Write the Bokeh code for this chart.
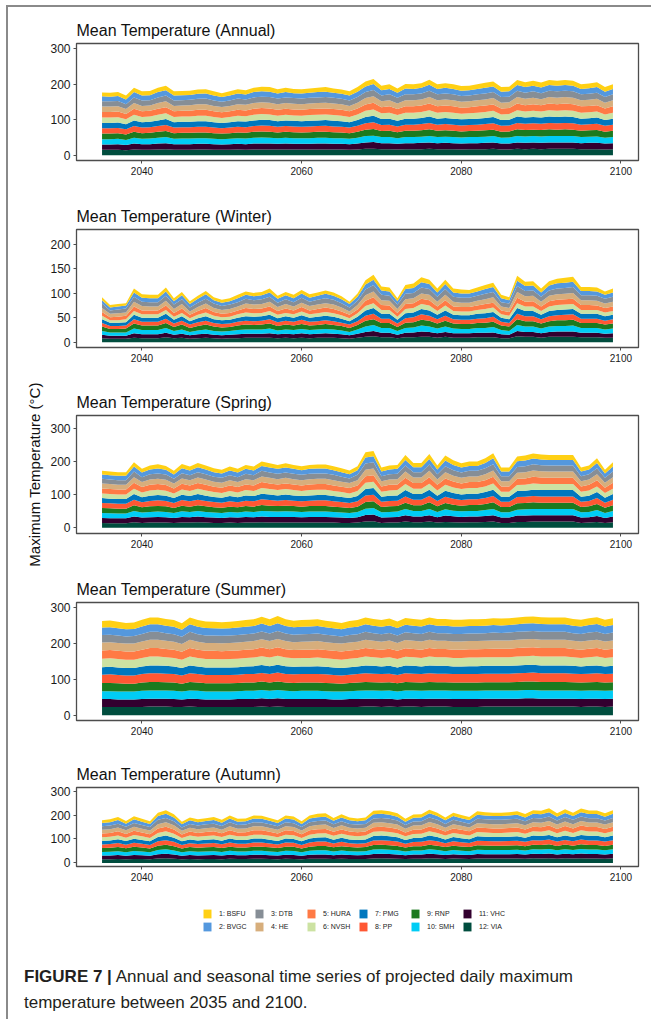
from bokeh.plotting import figure
from bokeh.layouts import column
from bokeh.models import ColumnDataSource, Range1d, FixedTicker, Legend, LegendItem, Div
from bokeh.embed import file_html
from bokeh.resources import INLINE

# ---------------------------------------------------------------------------
# Data: mean daily maximum temperature per station, 2035-2099
# ---------------------------------------------------------------------------
years = list(range(2035, 2100))
stations = ["BSFU", "BVGC", "DTB", "HE", "HURA", "NVSH", "PMG", "PP", "RNP", "SMH", "VHC", "VIA"]
legend_labels = ["1: BSFU", "2: BVGC", "3: DTB", "4: HE", "5: HURA", "6: NVSH",
                 "7: PMG", "8: PP", "9: RNP", "10: SMH", "11: VHC", "12: VIA"]
station_colors = ["#FFD014", "#5498DE", "#868E96", "#D7AE7C", "#FF7A45", "#CCE2A2",
                  "#0077BE", "#FF5733", "#1C7A1F", "#00CCF5", "#33002F", "#004D3E"]
x_ticks = [2040, 2060, 2080, 2100]

# Annual
annual_bsfu = [11,11,11,11,12,12,12,12,13,12, 12,12,12,12,12,11,12,12,12,12, 13,13,12,12,12,12,12,12,13,12, 12,12,13,14,14,13,13,12,13,13, 13,14,13,13,13,13,13,13,14,14, 13,13,14,14,14,14,14,14,14,14, 13,13,14,13,13]
annual_bvgc = [14,13,14,13,15,14,14,15,15,14, 14,14,14,14,14,13,14,14,14,15, 15,15,14,15,14,14,14,15,15,14, 14,14,15,16,17,15,15,14,16,15, 16,17,15,16,15,15,15,15,16,16, 15,15,16,16,16,16,16,16,16,16, 15,16,16,15,15]
annual_dtb = [15,15,15,14,16,15,15,16,16,15, 15,15,15,16,15,15,15,16,15,16, 16,16,16,16,16,16,16,16,16,16, 15,15,16,17,18,16,17,16,17,17, 17,18,17,17,17,16,16,17,17,17, 16,16,18,17,18,17,18,18,18,18, 17,17,17,16,17]
annual_he = [15,15,15,14,16,15,15,16,17,15, 15,16,16,16,15,15,15,16,16,16, 16,16,16,16,16,16,16,16,16,16, 16,15,16,18,18,17,17,16,17,17, 17,18,17,17,17,17,17,17,17,18, 16,16,18,18,18,17,18,18,18,18, 17,17,18,16,17]
annual_hura = [16,16,16,15,17,16,16,17,17,16, 16,16,17,17,16,16,16,17,16,17, 17,17,17,17,17,17,17,17,17,17, 17,16,17,18,19,17,18,17,18,18, 18,19,18,18,18,17,17,18,18,18, 17,17,19,18,19,18,19,19,19,19, 18,18,18,17,18]
annual_nvsh = [15,15,15,14,16,15,15,16,16,15, 15,15,15,15,15,14,15,15,15,16, 16,16,15,16,15,15,16,16,16,16, 15,15,16,17,18,16,17,16,17,17, 17,18,17,17,17,16,16,17,17,17, 16,16,18,17,17,17,18,17,18,17, 17,17,17,16,17]
annual_pmg = [15,15,15,14,16,15,15,16,17,15, 15,15,16,16,15,15,15,16,16,16, 16,16,16,16,16,16,16,16,16,16, 16,15,16,18,18,17,17,16,17,17, 17,18,17,17,17,17,17,17,17,18, 16,16,18,17,18,17,18,18,18,18, 17,17,17,16,17]
annual_pp = [15,15,15,15,16,16,16,16,17,16, 16,16,16,16,16,15,16,16,16,16, 17,17,16,16,16,16,16,16,17,16, 16,16,17,18,19,17,17,16,17,17, 18,18,17,18,17,17,17,17,18,18, 17,17,18,18,18,18,18,18,18,18, 17,17,18,17,17]
annual_rnp = [16,16,16,15,17,16,16,17,17,16, 16,16,16,16,16,16,16,16,16,17, 17,17,16,17,17,16,17,17,17,17, 16,16,17,18,19,17,18,17,18,18, 18,19,18,18,18,17,17,18,18,18, 17,17,19,18,18,18,19,18,19,18, 18,18,18,17,18]
annual_smh = [15,15,15,14,16,15,16,16,17,15, 16,16,16,16,15,15,15,16,16,16, 17,16,16,16,16,16,16,16,16,16, 16,15,16,18,18,17,17,16,17,17, 17,18,17,17,17,17,17,17,17,18, 16,17,18,18,18,18,18,18,18,18, 17,17,18,16,17]
annual_vhc = [15,15,16,15,17,16,16,17,17,16, 16,16,16,16,16,15,16,16,16,17, 17,17,16,17,16,16,16,17,17,16, 16,16,17,18,19,17,17,16,17,17, 18,18,17,18,17,17,17,17,18,18, 17,17,18,18,18,18,18,18,18,18, 17,18,18,17,17]
annual_via = [15,15,15,14,16,15,15,16,17,15, 15,15,16,16,15,15,15,16,15,16, 16,16,16,16,16,16,16,16,16,16, 16,15,16,18,18,17,17,16,17,17, 17,18,17,17,17,16,17,17,17,18, 16,16,18,17,18,17,18,18,18,18, 17,17,17,16,17]

# Winter
winter_bsfu = [6,5,5,5,8,7,7,7,8,6, 7,6,6,7,6,6,6,7,7,7, 7,8,6,7,7,7,7,7,7,7, 6,5,7,9,10,8,8,6,8,9, 10,9,8,9,8,8,7,8,8,9, 7,6,10,9,9,8,9,9,10,10, 8,8,8,7,8]
winter_bvgc = [7,6,6,6,9,8,8,8,9,7, 8,7,8,9,7,7,7,8,8,8, 8,9,8,8,8,9,8,8,9,8, 8,7,8,10,11,9,9,7,10,10, 11,10,9,10,9,9,9,9,10,10, 8,7,11,10,10,9,10,11,11,11, 9,9,9,8,9]
winter_dtb = [9,7,8,8,10,9,9,9,10,9, 10,8,9,10,9,8,9,9,10,9, 10,10,9,10,9,10,9,10,10,10, 9,8,9,12,13,11,10,9,11,11, 12,12,10,12,10,10,10,10,11,11, 9,9,12,11,11,10,11,12,12,12, 10,10,10,10,10]
winter_he = [8,7,7,7,10,9,8,8,10,8, 9,7,8,9,8,8,8,8,9,9, 9,10,8,9,8,9,9,9,9,9, 8,7,9,11,12,10,10,8,10,10, 11,11,10,11,10,9,9,10,10,11, 8,8,12,11,11,10,11,11,11,12, 10,10,10,9,10]
winter_hura = [8,6,7,7,9,8,8,8,9,8, 9,7,8,9,8,7,8,8,9,9, 9,9,8,9,8,9,8,9,9,9, 8,7,8,11,12,10,9,8,10,10, 11,11,9,11,9,9,9,9,10,10, 8,8,11,10,11,9,11,11,11,11, 10,10,9,9,9]
winter_nvsh = [7,5,5,6,8,7,7,7,8,6, 7,6,7,8,7,6,6,7,8,7, 7,8,7,7,7,8,7,7,8,7, 7,6,7,9,10,8,8,6,9,9, 10,10,8,10,8,8,8,8,9,9, 7,7,10,9,9,8,9,10,10,10, 8,8,8,8,8]
winter_pmg = [8,7,7,7,9,8,8,8,10,8, 9,7,8,9,8,8,8,8,9,9, 9,9,8,9,8,9,8,9,9,9, 8,7,9,11,12,10,10,8,10,10, 11,11,9,11,9,9,9,10,10,10, 8,8,12,11,11,9,11,11,11,11, 10,10,10,9,9]
winter_pp = [7,6,6,6,9,8,8,8,9,7, 8,7,8,8,7,7,7,8,8,8, 8,9,8,8,8,9,8,8,8,8, 7,7,8,10,11,9,9,7,9,10, 11,10,9,10,9,9,9,9,9,10, 8,7,11,10,10,9,10,10,11,11, 9,9,9,8,9]
winter_rnp = [9,7,7,8,10,9,9,9,10,8, 10,8,9,10,9,8,8,9,10,9, 10,10,9,10,9,10,9,9,10,9, 9,8,9,12,12,10,10,8,11,11, 12,12,10,12,10,10,10,10,11,11, 9,9,12,11,11,10,11,12,12,12, 10,10,10,10,10]
winter_smh = [8,7,7,7,10,9,9,9,10,8, 9,7,8,9,8,8,8,9,9,9, 9,10,8,9,9,9,9,9,9,9, 8,7,9,11,12,10,10,8,10,10, 12,11,10,11,10,9,9,10,10,11, 9,8,12,11,11,10,11,11,11,12, 10,10,10,9,10]
winter_vhc = [7,6,6,6,9,8,8,8,9,7, 8,7,8,8,7,7,7,8,8,8, 8,9,8,8,8,9,8,8,9,8, 8,7,8,10,11,9,9,7,9,10, 11,10,9,10,9,9,9,9,9,10, 8,7,11,10,10,9,10,11,11,11, 9,9,9,8,9]
winter_via = [8,7,7,7,9,8,8,8,10,8, 9,7,8,9,8,7,8,8,9,9, 9,9,8,9,8,9,8,9,9,9, 8,7,9,11,12,10,10,8,10,10, 11,11,9,11,9,9,9,10,10,10, 8,8,12,11,11,9,11,11,11,11, 10,10,10,9,9]

# Spring
spring_bsfu = [11,11,11,11,13,11,12,13,12,11, 13,12,13,12,12,11,12,11,12,12, 13,13,12,13,12,12,12,12,12,12, 12,11,12,16,16,12,12,12,15,13, 13,15,12,15,14,13,13,13,14,15, 12,12,14,15,15,15,15,15,15,15, 12,12,14,11,13]
spring_bvgc = [13,13,13,13,15,14,14,15,14,13, 15,14,15,14,14,13,14,14,15,14, 15,15,15,15,15,14,15,15,15,14, 14,13,14,18,18,14,14,15,17,15, 15,17,14,17,16,15,15,15,16,18, 14,14,17,17,17,17,17,17,17,17, 14,14,16,13,15]
spring_dtb = [14,14,14,14,17,15,16,16,16,14, 16,15,16,16,15,15,15,15,16,15, 17,16,16,16,16,16,16,16,16,16, 15,14,16,19,19,15,16,16,18,16, 16,19,16,18,17,16,17,17,18,19, 15,15,18,18,19,18,18,18,18,18, 15,16,18,15,17]
spring_he = [15,15,14,14,17,15,16,16,16,15, 16,16,17,16,15,15,16,15,16,16, 17,17,16,17,16,16,16,16,16,16, 15,15,16,19,20,16,16,16,19,17, 17,19,16,19,17,17,17,17,18,19, 16,16,18,19,19,19,19,19,19,19, 16,16,18,15,17]
spring_hura = [15,15,15,15,18,16,17,17,17,15, 17,17,17,17,16,16,17,16,17,17, 18,17,17,17,17,17,17,17,17,17, 16,16,17,20,20,16,17,17,19,17, 17,20,17,19,18,17,18,18,19,20, 16,16,19,19,20,20,19,19,19,19, 16,17,19,16,18]
spring_nvsh = [14,14,14,14,16,15,16,16,15,14, 16,15,16,16,15,14,15,15,16,15, 17,16,16,16,16,15,16,16,16,15, 15,14,15,19,19,15,16,16,18,16, 16,18,16,18,17,16,17,17,17,19, 15,15,18,18,19,18,18,18,18,18, 15,16,17,14,16]
spring_pmg = [15,14,14,14,17,15,16,16,16,15, 16,16,17,16,15,15,16,15,16,16, 17,17,16,17,16,16,16,16,16,16, 15,15,16,19,20,15,16,16,19,17, 17,19,16,18,17,17,17,17,18,19, 15,15,18,18,19,19,19,19,19,19, 15,16,18,15,17]
spring_pp = [15,15,15,15,17,15,16,17,16,15, 17,16,17,16,16,15,16,15,16,16, 17,17,16,17,16,16,16,17,17,16, 16,15,16,20,20,16,16,16,19,17, 17,19,16,19,18,17,17,17,18,19, 16,16,19,19,19,19,19,19,19,19, 16,16,18,15,17]
spring_rnp = [15,15,15,15,17,16,17,17,17,15, 17,16,17,17,16,16,16,16,17,16, 18,17,17,17,17,16,17,17,17,16, 16,15,16,20,20,16,17,17,19,17, 17,20,17,19,18,17,18,18,18,20, 16,16,19,19,20,19,19,19,19,19, 16,17,18,16,17]
spring_smh = [15,15,14,14,17,15,16,16,16,15, 17,16,17,16,15,15,16,15,16,16, 17,17,16,17,16,16,16,16,16,16, 15,15,16,19,20,16,16,16,19,17, 17,19,16,19,17,17,17,17,18,19, 16,16,18,19,19,19,19,19,19,19, 16,16,18,15,17]
spring_vhc = [15,15,15,15,17,16,16,17,16,15, 17,16,17,16,16,15,16,16,17,16, 17,17,17,17,17,16,17,17,17,16, 16,15,16,20,20,16,16,17,19,17, 17,19,16,19,18,17,17,17,18,19, 16,16,19,19,19,19,19,19,19,19, 16,16,18,15,17]
spring_via = [15,14,14,14,17,15,16,16,16,15, 16,16,17,16,15,15,16,15,16,16, 17,16,16,16,16,16,16,16,16,16, 15,15,16,19,20,15,16,16,19,17, 17,19,16,18,17,16,17,17,18,19, 15,15,18,18,19,19,19,19,19,19, 15,16,18,15,17]

# Summer
summer_bsfu = [18,19,18,18,18,19,19,19,19,19, 18,19,19,18,18,18,18,18,19,19, 19,19,20,19,18,19,19,19,18,18, 18,18,19,19,19,19,19,18,19,19, 19,19,19,19,19,19,19,19,19,19, 19,19,19,19,19,19,19,19,19,19, 19,19,19,19,19]
summer_bvgc = [21,21,20,20,20,21,21,21,21,21, 20,21,21,21,20,20,20,21,21,21, 22,21,22,21,21,21,21,21,21,20, 20,21,21,21,21,21,21,21,21,21, 21,21,21,21,21,21,21,21,21,21, 21,21,21,22,22,22,21,21,21,21, 21,21,22,21,21]
summer_dtb = [21,21,21,20,21,21,22,22,21,21, 20,22,21,21,21,21,21,21,21,21, 22,21,22,21,21,21,21,21,21,21, 20,21,21,22,21,21,21,21,22,21, 21,22,21,21,21,21,21,21,21,22, 21,22,22,22,22,22,22,22,22,21, 21,22,22,21,22]
summer_he = [22,22,22,22,22,23,23,23,23,22, 22,23,22,22,22,22,22,22,22,23, 23,23,23,23,22,22,23,23,22,22, 22,22,22,23,23,22,23,22,23,23, 23,23,23,23,23,23,23,23,23,23, 23,23,23,23,23,23,23,23,23,23, 23,23,23,23,23]
summer_hura = [23,23,23,23,23,23,24,24,23,23, 22,24,23,23,23,23,23,23,23,23, 24,23,24,23,23,23,23,23,23,23, 23,23,23,24,23,23,24,23,24,23, 23,24,23,23,23,23,23,23,23,24, 24,24,24,24,24,24,24,24,24,23, 23,24,24,23,24]
summer_nvsh = [24,24,24,23,23,24,25,25,24,24, 23,25,24,24,24,23,24,24,24,24, 25,24,25,24,24,24,24,24,24,24, 23,24,24,25,24,24,24,24,24,24, 24,25,24,24,24,24,24,24,24,24, 24,24,25,25,25,25,25,25,25,24, 24,24,25,24,24]
summer_pmg = [21,21,21,21,21,21,22,22,22,21, 21,22,21,21,21,21,21,21,21,22, 22,22,22,22,21,21,21,22,21,21, 21,21,21,22,22,21,22,21,22,22, 21,22,22,22,21,21,22,22,22,22, 22,22,22,22,22,22,22,22,22,22, 21,22,22,21,22]
summer_pp = [23,24,23,23,23,24,24,24,24,24, 23,24,24,23,23,23,23,23,24,24, 24,24,25,24,24,24,24,24,24,23, 23,23,24,24,24,24,24,23,24,24, 24,24,24,24,24,24,24,24,24,24, 24,24,24,24,25,24,24,24,24,24, 24,24,24,24,24]
summer_rnp = [23,23,23,22,22,23,24,24,23,23, 22,24,23,23,23,23,23,23,23,23, 24,23,24,23,23,23,23,23,23,23, 22,23,23,24,23,23,23,23,24,23, 23,24,23,23,23,23,23,23,23,23, 23,23,24,24,24,24,24,24,24,23, 23,23,24,23,23]
summer_smh = [22,22,22,22,22,23,23,23,23,23, 22,23,23,22,22,22,22,22,23,23, 23,23,23,23,22,23,23,23,22,22, 22,22,23,23,23,23,23,22,23,23, 23,23,23,23,23,23,23,23,23,23, 23,23,23,23,23,23,23,23,23,23, 23,23,23,23,23]
summer_vhc = [22,22,21,21,21,22,22,22,22,22, 21,22,22,21,21,21,21,22,22,22, 23,22,23,22,22,22,22,22,22,21, 21,22,22,22,22,22,22,21,22,22, 22,22,22,22,22,22,22,22,22,22, 22,22,22,23,23,22,22,22,22,22, 22,22,22,22,22]
summer_via = [23,23,23,23,23,23,24,24,24,23, 23,24,23,23,23,23,23,23,23,23, 24,23,24,23,23,23,23,23,23,23, 23,23,23,24,24,23,24,23,24,24, 23,24,24,24,23,23,23,23,24,24, 24,24,24,24,24,24,24,24,24,24, 23,24,24,23,24]

# Autumn
autumn_bsfu = [11,12,13,11,13,12,11,14,15,13, 11,12,12,12,13,12,13,12,12,13, 13,12,11,13,13,11,13,14,14,12, 13,12,12,12,15,15,15,14,12,13, 13,15,14,12,14,13,13,15,14,14, 14,14,15,14,15,15,16,14,15,14, 15,15,15,14,15]
autumn_bvgc = [14,14,15,13,15,14,13,16,17,16, 13,15,14,14,15,14,15,14,14,15, 15,14,14,15,15,13,15,16,16,14, 16,15,14,15,17,17,17,16,14,16, 16,17,16,15,16,15,15,17,16,16, 16,16,17,16,17,17,18,16,17,16, 18,17,17,16,17]
autumn_dtb = [15,15,16,15,16,15,15,18,18,17, 14,16,15,16,16,15,17,15,16,17, 16,16,15,17,16,15,17,17,17,16, 17,16,16,16,18,18,18,17,15,17, 17,19,18,16,18,17,16,18,18,18, 18,18,18,17,18,18,19,17,19,18, 19,18,18,17,18]
autumn_he = [15,16,16,15,17,16,15,18,19,17, 15,16,16,16,16,15,17,16,16,17, 17,16,15,17,17,15,17,17,18,16, 17,16,16,16,19,19,18,18,16,17, 17,19,18,16,18,17,16,18,18,18, 18,18,18,17,19,19,19,18,19,18, 19,19,19,18,19]
autumn_hura = [16,16,17,16,17,16,16,19,19,18, 15,17,16,17,17,16,18,16,17,18, 18,17,16,18,17,16,18,18,18,17, 18,17,17,17,19,19,19,18,16,18, 18,20,19,17,19,18,17,19,19,19, 19,19,19,18,19,19,20,18,20,19, 20,19,19,18,19]
autumn_nvsh = [15,15,16,14,16,15,14,17,18,17, 14,16,15,15,16,15,16,15,15,16, 16,16,15,16,16,14,16,17,17,16, 17,16,15,16,18,18,18,17,15,17, 17,18,17,16,17,17,16,18,18,17, 17,18,18,17,18,18,19,17,19,17, 19,18,18,17,18]
autumn_pmg = [15,15,16,15,17,16,15,18,19,17, 15,16,15,16,16,15,17,16,16,17, 17,16,15,17,16,15,17,17,18,16, 17,16,16,16,18,19,18,18,16,17, 17,19,18,16,18,17,16,18,18,18, 18,18,18,17,19,18,19,18,19,18, 19,19,19,18,19]
autumn_pp = [15,16,17,15,17,16,15,18,19,18, 15,16,16,16,17,16,17,16,16,17, 17,16,15,17,17,15,17,18,18,16, 18,16,16,16,19,19,19,18,16,17, 18,19,18,16,18,17,17,19,18,18, 18,18,19,18,19,19,20,18,19,18, 20,19,19,18,19]
autumn_rnp = [16,16,17,16,17,16,15,18,19,18, 15,17,16,17,17,16,17,16,16,17, 17,17,16,17,17,15,17,18,18,17, 18,17,16,17,19,19,19,18,16,18, 18,19,18,17,18,18,17,19,19,18, 18,19,19,18,19,19,20,18,20,18, 20,19,19,18,19]
autumn_smh = [15,16,16,15,17,16,15,18,19,17, 15,16,16,16,16,15,17,16,16,17, 17,16,15,17,17,15,17,18,18,16, 17,16,16,16,19,19,18,18,16,17, 17,19,18,16,18,17,16,18,18,18, 18,18,18,17,19,19,19,18,19,18, 19,19,19,18,19]
autumn_vhc = [16,16,17,15,17,16,15,18,19,18, 15,17,16,16,17,16,17,16,16,17, 17,16,16,17,17,15,17,18,18,16, 18,17,16,17,19,19,19,18,16,18, 18,19,18,17,18,17,17,19,18,18, 18,18,19,18,19,19,20,18,19,18, 20,19,19,18,19]
autumn_via = [15,15,16,15,16,16,15,18,19,17, 15,16,15,16,16,15,17,16,16,17, 17,16,15,17,16,15,17,17,17,16, 17,16,16,16,18,19,18,17,16,17, 17,19,18,16,18,17,16,18,18,18, 18,18,18,17,19,18,19,17,19,18, 19,18,18,17,19]

annual = dict(BSFU=annual_bsfu, BVGC=annual_bvgc, DTB=annual_dtb, HE=annual_he, HURA=annual_hura,
              NVSH=annual_nvsh, PMG=annual_pmg, PP=annual_pp, RNP=annual_rnp, SMH=annual_smh,
              VHC=annual_vhc, VIA=annual_via)
winter = dict(BSFU=winter_bsfu, BVGC=winter_bvgc, DTB=winter_dtb, HE=winter_he, HURA=winter_hura,
              NVSH=winter_nvsh, PMG=winter_pmg, PP=winter_pp, RNP=winter_rnp, SMH=winter_smh,
              VHC=winter_vhc, VIA=winter_via)
spring = dict(BSFU=spring_bsfu, BVGC=spring_bvgc, DTB=spring_dtb, HE=spring_he, HURA=spring_hura,
              NVSH=spring_nvsh, PMG=spring_pmg, PP=spring_pp, RNP=spring_rnp, SMH=spring_smh,
              VHC=spring_vhc, VIA=spring_via)
summer = dict(BSFU=summer_bsfu, BVGC=summer_bvgc, DTB=summer_dtb, HE=summer_he, HURA=summer_hura,
              NVSH=summer_nvsh, PMG=summer_pmg, PP=summer_pp, RNP=summer_rnp, SMH=summer_smh,
              VHC=summer_vhc, VIA=summer_via)
autumn = dict(BSFU=autumn_bsfu, BVGC=autumn_bvgc, DTB=autumn_dtb, HE=autumn_he, HURA=autumn_hura,
              NVSH=autumn_nvsh, PMG=autumn_pmg, PP=autumn_pp, RNP=autumn_rnp, SMH=autumn_smh,
              VHC=autumn_vhc, VIA=autumn_via)

# ---------------------------------------------------------------------------
# Styling helpers
# ---------------------------------------------------------------------------
FONT = "Liberation Sans"
FRAME_GREY = "#4d4d4d"
WIDTH = 643
stack_order = stations[::-1]          # VIA at the bottom, BSFU on top
stack_colors = station_colors[::-1]


def make_panel(title, values, y_start, y_end, y_ticks, height, top, bottom, y_label=None):
    src = ColumnDataSource(dict(year=years, **values))
    p = figure(width=WIDTH, height=height, title=title,
               x_range=Range1d(2031.8, 2102.2), y_range=Range1d(y_start, y_end),
               output_backend="svg", toolbar_location=None,
               min_border_left=68, min_border_right=13,
               min_border_top=top, min_border_bottom=bottom)
    p.varea_stack(stackers=stack_order, x="year", color=stack_colors, source=src)

    p.title.text_font = FONT
    p.title.text_font_size = "16px"
    p.title.text_font_style = "normal"
    p.title.text_color = "#111111"
    p.title.standoff = 9

    p.grid.visible = False
    p.outline_line_color = FRAME_GREY
    p.outline_line_width = 1.3
    p.background_fill_color = "white"
    p.border_fill_color = "white"

    p.xaxis.ticker = FixedTicker(ticks=x_ticks, minor_ticks=[])
    p.yaxis.ticker = FixedTicker(ticks=y_ticks, minor_ticks=[])
    p.axis.axis_line_color = FRAME_GREY
    p.axis.major_tick_line_color = FRAME_GREY
    p.axis.major_tick_out = 3
    p.axis.major_tick_in = 0
    p.axis.minor_tick_line_color = None
    p.axis.major_label_text_font = FONT
    p.axis.major_label_text_color = "#1a1a1a"
    p.axis.major_label_standoff = 3
    p.xaxis.major_label_text_font_size = "10px"
    p.yaxis.major_label_text_font_size = "12px"
    if y_label:
        p.yaxis.axis_label = y_label
        p.yaxis.axis_label_text_font = FONT
        p.yaxis.axis_label_text_font_size = "15px"
        p.yaxis.axis_label_text_font_style = "normal"
        p.yaxis.axis_label_text_color = "#111111"
        p.yaxis.axis_label_standoff = 4
    return p


p_annual = make_panel("Mean Temperature (Annual)", annual, -15, 315, [0, 100, 200, 300], 183, 36, 30)
p_winter = make_panel("Mean Temperature (Winter)", winter, -11, 231, [0, 50, 100, 150, 200], 187, 39, 30)
p_spring = make_panel("Mean Temperature (Spring)", spring, -17, 339, [0, 100, 200, 300], 193, 38, 37,
                      y_label="Maximum Temperature (°C)")
p_summer = make_panel("Mean Temperature (Summer)", summer, -15, 315, [0, 100, 200, 300], 180, 32, 30)
p_autumn = make_panel("Mean Temperature (Autumn)", autumn, -15, 315, [0, 100, 200, 300], 140, 37, 24)

# ---------------------------------------------------------------------------
# Shared legend strip (frame aligned with the panels so it centres under them)
# ---------------------------------------------------------------------------
p_legend = figure(width=WIDTH, height=60, x_range=Range1d(0, 1), y_range=Range1d(0, 1),
                  output_backend="svg", toolbar_location=None,
                  min_border_left=68, min_border_right=13, min_border_top=0, min_border_bottom=0,
                  x_axis_location=None, y_axis_location=None)
p_legend.grid.visible = False
p_legend.outline_line_color = None
items = []
for lab, col in zip(legend_labels, station_colors):
    # zero-area proxy glyph: only its fill colour is used by the legend swatch
    proxy = p_legend.varea(x=[0], y1=[0], y2=[0], fill_color=col)
    items.append(LegendItem(label=lab, renderers=[proxy]))
legend = Legend(items=items, location="center", orientation="vertical", nrows=2,
                glyph_width=10, glyph_height=11, label_height=11, label_width=33,
                label_standoff=7, spacing=2, padding=0, margin=0,
                border_line_color=None, background_fill_alpha=0,
                label_text_font=FONT, label_text_font_size="7px", label_text_color="#222222")
p_legend.add_layout(legend)

# ---------------------------------------------------------------------------
# Caption
# ---------------------------------------------------------------------------
caption = Div(
    text=('<div style="font-family:\'Liberation Sans\',Arial,sans-serif;font-size:17px;'
          'line-height:26px;color:#231f20;padding:14px 0 0 16px;">'
          '<b>FIGURE 7 |</b> Annual and seasonal time series of projected daily maximum<br>'
          'temperature between 2035 and 2100.</div>'),
    width=WIDTH, height=69, margin=0)

layout = column(p_annual, p_winter, p_spring, p_summer, p_autumn, p_legend, caption,
                margin=(5, 0, 0, 6),
                styles={"border-left": "2px solid #8a8a8a", "border-top": "2px solid #8a8a8a"})

open("out.html", "w").write(file_html(layout, INLINE))
